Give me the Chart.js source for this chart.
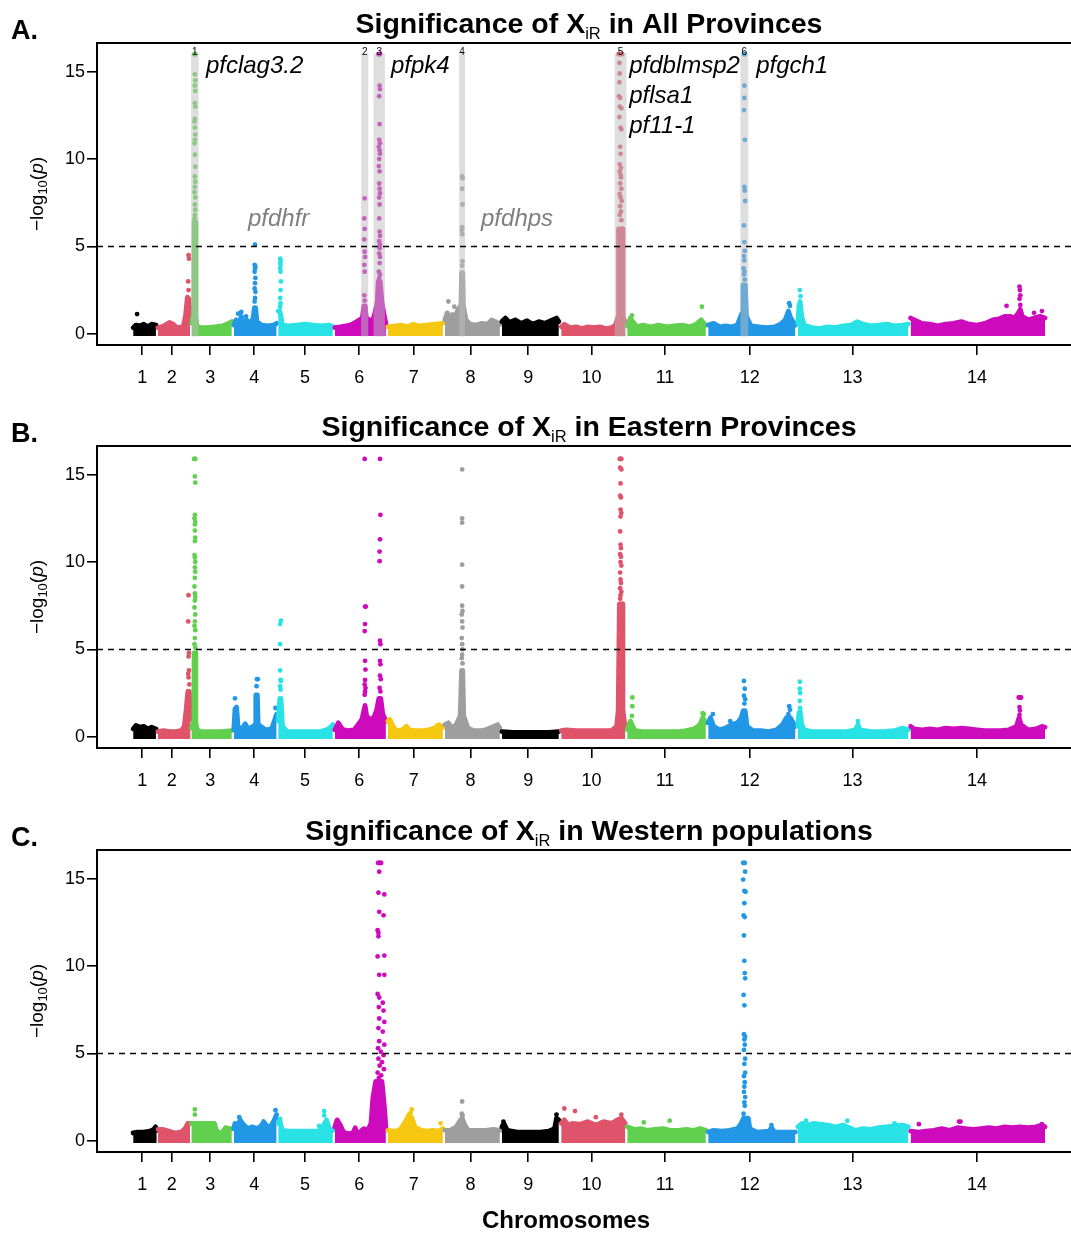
<!DOCTYPE html>
<html>
<head>
<meta charset="utf-8">
<script src="https://cdn.jsdelivr.net/npm/chart.js@4.4.1/dist/chart.umd.min.js"></script>
<style>
  body { margin: 0; background: #fff; }
  #wrap { position: relative; width: 1071px; height: 1233px; background: #fff; overflow: hidden; }
  canvas { position: absolute; left: 0; }
</style>
</head>
<body>
<div id="wrap">
  <canvas id="panelA" width="1075" height="403" style="top:0px"></canvas>
  <canvas id="panelB" width="1075" height="404" style="top:403px"></canvas>
  <canvas id="panelC" width="1075" height="426" style="top:807px"></canvas>
</div>
<script>
// --- DATA ---
// x = cumulative genome position (Mb), y = -log10(p)
const chromNames = ['1', '2', '3', '4', '5', '6', '7', '8', '9', '10', '11', '12', '13', '14'];
const chromTicks = [0.26, 1.01, 1.99, 3.11, 4.40, 5.78, 7.17, 8.61, 10.08, 11.69, 13.56, 15.72, 18.33, 21.50];
const yTicks = [0, 5, 10, 15];
const threshold = 5;

// top edge of the dense cloud of low points, per chromosome: [pos, value]
const envA = [
  [[0.03,0.35],[0.1,0.5],[0.2,0.45],[0.3,0.55],[0.4,0.4],[0.5,0.55],[0.61,0.5]],
  [[0.66,0.35],[0.8,0.45],[0.95,0.65],[1.05,0.55],[1.15,0.35],[1.3,0.4],[1.36,1.0],[1.41,2.1],[1.45,2.0],[1.48,1.0]],
  [[1.52,0.6],[1.575,1.2],[1.58,6.4],[1.62,6.4],[1.625,1.0],[1.66,0.4],[1.75,0.35],[1.9,0.35],[2.1,0.4],[2.3,0.45],[2.45,0.6],[2.54,0.7]],
  [[2.59,0.5],[2.65,0.8],[2.72,0.55],[2.78,1.0],[2.83,0.6],[2.92,0.8],[3.0,0.55],[3.08,0.9],[3.115,1.5],[3.145,1.5],[3.18,0.7],[3.3,0.5],[3.45,0.45],[3.6,0.5],[3.68,0.6]],
  [[3.72,1.3],[3.76,1.3],[3.79,1.0],[3.83,0.5],[4.0,0.45],[4.2,0.5],[4.4,0.55],[4.6,0.5],[4.8,0.45],[5.0,0.5],[5.11,0.4]],
  [[5.16,0.35],[5.3,0.4],[5.45,0.45],[5.6,0.55],[5.75,0.75],[5.86,0.9],[5.9,1.6],[5.935,1.6],[5.96,0.9],[6.05,0.8],[6.12,0.7],[6.18,1.2],[6.24,1.8],[6.265,3.0],[6.315,3.0],[6.36,1.8],[6.42,1.0],[6.46,0.6]],
  [[6.51,0.4],[6.7,0.45],[6.85,0.5],[7.0,0.4],[7.15,0.55],[7.3,0.45],[7.5,0.5],[7.7,0.55],[7.91,0.6]],
  [[7.96,0.8],[8.02,1.2],[8.08,0.9],[8.15,1.1],[8.22,1.0],[8.3,1.4],[8.37,1.6],[8.385,3.5],[8.415,3.5],[8.43,1.6],[8.5,0.8],[8.6,0.55],[8.75,0.5],[8.9,0.6],[9.05,0.55],[9.15,0.8],[9.25,0.7],[9.36,0.55]],
  [[9.41,0.7],[9.5,0.9],[9.6,0.65],[9.75,0.8],[9.9,0.6],[10.05,0.75],[10.2,0.55],[10.35,0.7],[10.5,0.6],[10.65,0.75],[10.8,0.9],[10.86,0.7]],
  [[10.92,0.4],[11.0,0.55],[11.15,0.35],[11.3,0.4],[11.45,0.3],[11.6,0.4],[11.75,0.35],[11.9,0.4],[12.05,0.3],[12.2,0.35],[12.3,0.5],[12.37,1.0],[12.38,6.0],[12.48,6.0],[12.49,1.0],[12.55,0.6]],
  [[12.6,0.45],[12.68,0.9],[12.74,0.7],[12.85,0.4],[13.0,0.5],[13.2,0.4],[13.4,0.5],[13.6,0.4],[13.8,0.45],[14.0,0.5],[14.2,0.4],[14.35,0.55],[14.48,0.8],[14.55,0.6],[14.6,0.5]],
  [[14.66,0.5],[14.8,0.6],[14.95,0.4],[15.1,0.45],[15.25,0.4],[15.4,0.5],[15.52,1.2],[15.545,2.8],[15.605,2.8],[15.63,1.0],[15.75,0.45],[15.95,0.4],[16.15,0.35],[16.35,0.4],[16.5,0.55],[16.62,0.8],[16.7,1.3],[16.76,0.9],[16.88,0.5]],
  [[16.94,0.6],[16.97,1.6],[17.0,1.85],[17.04,1.0],[17.1,0.5],[17.3,0.35],[17.5,0.3],[17.7,0.4],[17.9,0.35],[18.1,0.45],[18.3,0.5],[18.45,0.7],[18.6,0.55],[18.8,0.45],[19.0,0.5],[19.2,0.55],[19.4,0.45],[19.6,0.5],[19.75,0.55]],
  [[19.81,0.9],[19.95,0.75],[20.1,0.6],[20.3,0.55],[20.5,0.45],[20.7,0.55],[20.9,0.6],[21.1,0.7],[21.3,0.55],[21.5,0.5],[21.7,0.6],[21.9,0.8],[22.05,0.85],[22.2,1.0],[22.35,1.0],[22.45,0.9],[22.55,1.2],[22.6,1.4],[22.65,1.0],[22.8,0.8],[22.95,0.9],[23.1,1.0],[23.23,0.9]]
];
const envB = [
  [[0.03,0.45],[0.1,0.65],[0.2,0.55],[0.3,0.6],[0.4,0.45],[0.5,0.55],[0.61,0.45]],
  [[0.66,0.3],[0.8,0.35],[0.95,0.3],[1.1,0.3],[1.25,0.35],[1.33,0.6],[1.38,1.6],[1.42,2.6],[1.46,2.6],[1.49,1.0]],
  [[1.51,0.5],[1.575,0.9],[1.58,4.8],[1.62,4.8],[1.625,0.8],[1.66,0.4],[1.75,0.3],[2.0,0.3],[2.25,0.3],[2.54,0.35]],
  [[2.59,0.4],[2.62,1.6],[2.66,1.7],[2.7,0.6],[2.78,0.4],[2.88,0.75],[2.95,0.45],[3.08,0.6],[3.13,0.7],[3.15,2.4],[3.19,2.4],[3.21,0.7],[3.4,0.4],[3.55,0.45],[3.62,0.9],[3.68,1.3]],
  [[3.72,0.9],[3.76,2.2],[3.79,2.2],[3.83,0.6],[3.95,0.3],[4.2,0.3],[4.5,0.3],[4.8,0.3],[5.0,0.45],[5.11,0.7]],
  [[5.16,0.4],[5.25,0.8],[5.35,0.45],[5.5,0.35],[5.65,0.4],[5.75,0.7],[5.85,1.0],[5.9,1.5],[5.93,1.8],[5.97,1.2],[6.05,1.0],[6.15,1.1],[6.22,1.5],[6.28,2.2],[6.33,2.2],[6.38,1.3],[6.46,0.9]],
  [[6.51,0.9],[6.56,1.0],[6.62,0.7],[6.7,0.4],[6.85,0.35],[6.98,0.6],[7.05,0.4],[7.2,0.35],[7.4,0.35],[7.55,0.4],[7.7,0.5],[7.8,0.7],[7.91,0.55]],
  [[7.96,0.7],[8.05,0.8],[8.15,0.5],[8.25,0.7],[8.35,1.2],[8.385,3.8],[8.415,3.8],[8.44,1.2],[8.55,0.5],[8.7,0.35],[8.9,0.35],[9.05,0.45],[9.2,0.6],[9.3,0.7],[9.36,0.5]],
  [[9.41,0.3],[9.7,0.25],[10.0,0.25],[10.3,0.25],[10.6,0.25],[10.86,0.3]],
  [[10.92,0.35],[11.05,0.4],[11.3,0.35],[11.6,0.35],[11.9,0.35],[12.2,0.35],[12.33,0.6],[12.37,1.5],[12.4,7.6],[12.47,7.6],[12.49,1.5],[12.55,0.5]],
  [[12.6,0.4],[12.68,0.9],[12.72,0.7],[12.8,0.35],[13.0,0.3],[13.3,0.3],[13.6,0.3],[13.9,0.3],[14.1,0.35],[14.3,0.45],[14.45,0.7],[14.52,1.1],[14.6,0.8]],
  [[14.66,0.8],[14.72,1.1],[14.8,0.6],[14.95,0.4],[15.1,0.5],[15.25,0.7],[15.4,0.8],[15.5,1.1],[15.55,1.5],[15.6,1.5],[15.65,0.6],[15.8,0.35],[16.0,0.35],[16.2,0.3],[16.4,0.4],[16.55,0.7],[16.65,1.1],[16.75,1.1],[16.85,0.7],[16.88,0.6]],
  [[16.94,0.6],[16.97,1.4],[17.0,1.45],[17.04,0.7],[17.1,0.4],[17.3,0.3],[17.6,0.3],[17.9,0.3],[18.2,0.3],[18.4,0.4],[18.47,0.7],[18.52,0.4],[18.8,0.3],[19.1,0.3],[19.4,0.35],[19.6,0.5],[19.75,0.4]],
  [[19.81,0.6],[19.9,0.45],[20.1,0.4],[20.3,0.45],[20.5,0.4],[20.7,0.5],[20.9,0.45],[21.1,0.5],[21.3,0.45],[21.5,0.4],[21.7,0.35],[21.9,0.35],[22.1,0.35],[22.3,0.4],[22.5,0.6],[22.57,1.1],[22.62,0.7],[22.8,0.4],[23.0,0.45],[23.15,0.6],[23.23,0.55]]
];
const envC = [
  [[0.03,0.45],[0.15,0.5],[0.3,0.5],[0.45,0.55],[0.55,0.65],[0.6,0.8],[0.63,0.6]],
  [[0.66,0.65],[0.8,0.65],[0.95,0.55],[1.1,0.45],[1.25,0.5],[1.35,0.7],[1.42,1.0],[1.48,1.0]],
  [[1.51,1.0],[1.7,1.0],[1.9,1.0],[2.1,1.0],[2.15,0.6],[2.25,0.4],[2.3,0.5],[2.38,0.75],[2.5,0.7],[2.54,0.7]],
  [[2.59,0.7],[2.62,1.0],[2.7,0.9],[2.75,1.2],[2.85,0.9],[2.95,0.7],[3.05,0.8],[3.2,0.7],[3.3,0.9],[3.35,1.1],[3.45,0.8],[3.55,0.9],[3.62,1.2],[3.68,1.5]],
  [[3.72,1.0],[3.76,1.2],[3.82,0.6],[4.0,0.55],[4.3,0.55],[4.6,0.55],[4.75,0.55],[4.85,0.8],[4.95,1.2],[5.02,0.7],[5.11,0.6]],
  [[5.16,0.8],[5.22,1.2],[5.3,0.9],[5.38,0.5],[5.5,0.4],[5.62,0.45],[5.68,0.75],[5.72,0.4],[5.8,0.5],[5.9,0.7],[6.0,0.6],[6.08,1.0],[6.13,2.5],[6.2,3.4],[6.36,3.4],[6.42,2.0],[6.46,0.8]],
  [[6.51,0.6],[6.65,0.55],[6.8,0.6],[6.9,0.9],[6.98,1.2],[7.05,1.5],[7.12,1.3],[7.2,0.8],[7.35,0.6],[7.5,0.55],[7.65,0.6],[7.8,0.55],[7.91,0.7]],
  [[7.96,0.6],[8.1,0.6],[8.25,0.8],[8.33,1.1],[8.4,1.3],[8.47,0.9],[8.55,0.6],[8.8,0.6],[9.0,0.6],[9.2,0.65],[9.36,0.6]],
  [[9.41,0.8],[9.46,1.0],[9.55,0.6],[9.8,0.5],[10.1,0.5],[10.4,0.5],[10.6,0.55],[10.75,0.7],[10.8,1.3],[10.86,1.2]],
  [[10.92,1.0],[11.0,1.2],[11.1,0.9],[11.2,1.0],[11.4,0.95],[11.6,1.1],[11.8,0.9],[12.0,1.1],[12.2,1.0],[12.35,1.2],[12.45,1.3],[12.55,1.0]],
  [[12.6,0.8],[12.8,0.65],[12.95,0.7],[13.1,0.6],[13.3,0.65],[13.5,0.7],[13.7,0.6],[13.9,0.6],[14.1,0.65],[14.3,0.6],[14.45,0.7],[14.6,0.6]],
  [[14.66,0.5],[14.8,0.6],[15.0,0.55],[15.2,0.6],[15.4,0.7],[15.5,1.0],[15.56,1.3],[15.68,1.3],[15.72,0.7],[15.9,0.5],[16.2,0.55],[16.27,0.75],[16.35,0.5],[16.6,0.5],[16.88,0.5]],
  [[16.94,0.8],[17.05,1.0],[17.2,0.9],[17.35,1.0],[17.5,0.95],[17.7,0.9],[17.9,0.8],[18.1,0.9],[18.25,0.75],[18.4,0.6],[18.6,0.7],[18.8,0.65],[19.0,0.75],[19.2,0.8],[19.4,0.85],[19.6,0.9],[19.75,0.8]],
  [[19.81,0.55],[20.0,0.5],[20.2,0.55],[20.4,0.6],[20.6,0.7],[20.8,0.6],[21.0,0.75],[21.2,0.7],[21.4,0.65],[21.6,0.7],[21.8,0.75],[22.0,0.7],[22.2,0.8],[22.4,0.75],[22.6,0.8],[22.8,0.75],[23.0,0.8],[23.15,0.9],[23.23,0.8]]
];

// single SNPs standing out of the cloud: [chromosome, pos, value]
const hitsA = [
  [1,0.13,1.13],
  [2,1.44,4.5],[2,1.45,4.3],[2,1.43,3.0],[2,1.44,2.5],
  [3,1.585,16],[3,1.595,16],[3,1.605,16],[3,1.615,16],[3,1.6,14.85],[3,1.61,14.5],[3,1.6,14.2],[3,1.61,13.9],[3,1.6,13.2],[3,1.61,13.0],[3,1.6,12.3],[3,1.59,12.15],[3,1.6,11.8],[3,1.61,11.4],[3,1.6,11.1],[3,1.59,10.9],[3,1.6,10.25],[3,1.61,9.56],[3,1.6,9.0],[3,1.61,8.7],[3,1.6,8.4],[3,1.59,8.1],[3,1.61,7.8],[3,1.6,7.4],[3,1.61,7.1],[3,1.6,6.8],[3,1.59,6.6],
  [4,2.70,1.15],[4,2.78,1.25],[4,2.9,1.0],[4,3.13,5.1],[4,3.12,3.95],[4,3.14,3.85],[4,3.13,3.75],[4,3.12,3.55],[4,3.14,3.2],[4,3.13,2.9],[4,3.12,2.6],[4,3.14,2.4],[4,3.13,2.05],[4,3.12,1.85],
  [5,3.77,4.3],[5,3.78,4.2],[5,3.77,4.05],[5,3.78,3.95],[5,3.77,3.75],[5,3.78,3.55],[5,3.79,3.0],[5,3.78,2.5],[5,3.77,2.05],[5,3.78,1.75],[5,3.77,1.55],
  [6,5.92,7.75],[6,5.91,6.6],[6,5.92,6.0],[6,5.91,5.4],[6,5.92,4.7],[6,5.93,4.4],[6,5.91,3.95],[6,5.92,3.55],[6,5.91,2.2],[6,5.92,1.9],
  [6,6.27,16],[6,6.29,16],[6,6.31,16],[6,6.3,14.2],[6,6.31,14.0],[6,6.29,13.6],[6,6.3,12.0],[6,6.29,11.1],[6,6.31,10.9],[6,6.28,10.7],[6,6.3,10.5],[6,6.31,10.3],[6,6.29,10.0],[6,6.28,9.6],[6,6.3,9.3],[6,6.29,8.6],[6,6.3,8.3],[6,6.31,8.05],[6,6.29,7.8],[6,6.3,7.4],[6,6.29,6.6],[6,6.3,5.85],[6,6.31,5.6],[6,6.29,5.3],[6,6.31,5.1],[6,6.3,4.9],[6,6.29,4.6],[6,6.31,4.4],[6,6.3,4.05],[6,6.28,3.55],[6,6.31,3.4],[6,6.29,3.2],
  [8,8.05,1.85],[8,8.2,1.55],[8,8.40,9.0],[8,8.41,8.9],[8,8.40,8.3],[8,8.41,7.4],[8,8.40,6.1],[8,8.39,5.95],[8,8.40,5.7],[8,8.41,4.15],[8,8.40,3.9],
  [10,12.38,16],[10,12.41,16],[10,12.44,16],[10,12.47,16],[10,12.40,15.5],[10,12.41,14.9],[10,12.40,14.4],[10,12.39,13.6],[10,12.42,13.5],[10,12.41,13.0],[10,12.45,12.9],[10,12.40,12.4],[10,12.43,11.8],[10,12.45,11.7],[10,12.42,10.7],[10,12.43,10.3],[10,12.41,9.7],[10,12.44,9.5],[10,12.41,9.3],[10,12.43,9.1],[10,12.44,8.95],[10,12.42,8.6],[10,12.45,8.3],[10,12.41,8.0],[10,12.43,7.8],[10,12.46,7.6],[10,12.42,7.3],[10,12.44,7.0],[10,12.41,6.8],[10,12.45,6.5],
  [11,12.72,1.05],[11,14.50,1.55],
  [12,15.57,16],[12,15.59,16],[12,15.58,14.2],[12,15.58,13.5],[12,15.57,12.8],[12,15.59,11.1],[12,15.58,8.4],[12,15.59,8.2],[12,15.6,7.6],[12,15.57,6.2],[12,15.58,5.25],[12,15.59,4.75],[12,15.57,4.45],[12,15.58,4.2],[12,15.56,3.75],[12,15.58,3.55],[12,15.57,3.4],[12,15.59,3.1],[12,16.72,1.75],[12,16.74,1.6],
  [13,16.99,2.5],[13,17.01,2.15],
  [14,22.25,1.6],[14,22.58,2.7],[14,22.59,2.5],[14,22.6,2.2],[14,22.58,2.0],[14,22.6,1.65],[14,22.95,1.2],[14,23.15,1.3]
];
const hitsB = [
  [2,1.44,8.1],[2,1.43,6.6],[2,1.45,4.8],[2,1.44,4.6],[2,1.45,3.8],[2,1.43,3.6],[2,1.44,3.4],[2,1.46,3.0],
  [3,1.58,15.9],[3,1.595,15.9],[3,1.61,15.9],[3,1.6,14.9],[3,1.61,14.55],[3,1.6,12.7],[3,1.59,12.5],[3,1.61,12.3],[3,1.6,12.15],[3,1.6,11.8],[3,1.61,11.4],[3,1.6,11.2],[3,1.59,10.4],[3,1.6,10.25],[3,1.61,10.0],[3,1.6,9.7],[3,1.61,9.45],[3,1.6,9.1],[3,1.59,8.6],[3,1.6,8.2],[3,1.61,8.0],[3,1.6,7.8],[3,1.59,7.4],[3,1.61,7.0],[3,1.6,6.6],[3,1.59,6.35],[3,1.61,6.1],[3,1.6,5.65],[3,1.59,5.3],[3,1.61,5.1],
  [4,2.62,2.2],[4,3.18,3.3],[4,3.2,3.3],[4,3.17,2.9],[4,3.65,1.65],
  [5,3.79,6.65],[5,3.77,6.45],[5,3.77,5.3],[5,3.77,3.8],[5,3.78,3.25],[5,3.79,3.2],[5,3.77,2.9],[5,3.78,2.7],
  [6,5.92,15.9],[6,5.93,7.45],[6,5.95,7.45],[6,5.93,6.45],[6,5.92,6.05],[6,5.93,4.35],[6,5.94,3.85],[6,5.93,3.25],[6,5.92,3.0],[6,5.94,2.8],[6,5.93,2.6],[6,5.92,2.4],
  [6,6.31,15.9],[6,6.32,12.7],[6,6.31,11.3],[6,6.3,10.6],[6,6.3,10.05],[6,6.31,5.5],[6,6.32,5.3],[6,6.31,4.35],[6,6.32,4.15],[6,6.31,3.5],[6,6.33,3.3],[6,6.3,2.8],[6,6.32,2.6],
  [8,8.40,15.3],[8,8.40,12.5],[8,8.40,12.25],[8,8.40,9.85],[8,8.40,8.6],[8,8.40,7.5],[8,8.41,7.2],[8,8.39,7.0],[8,8.40,6.6],[8,8.41,6.25],[8,8.39,5.65],[8,8.40,5.3],[8,8.41,5.0],[8,8.40,4.7],[8,8.39,4.5],[8,8.41,4.2],
  [10,12.41,15.9],[10,12.42,15.9],[10,12.44,15.9],[10,12.45,15.9],[10,12.42,15.4],[10,12.45,15.3],[10,12.43,14.5],[10,12.42,13.8],[10,12.44,13.7],[10,12.43,13.0],[10,12.45,12.8],[10,12.43,12.6],[10,12.42,11.75],[10,12.43,11.0],[10,12.44,10.8],[10,12.42,10.45],[10,12.44,10.3],[10,12.43,10.0],[10,12.45,9.8],[10,12.42,9.4],[10,12.43,9.0],[10,12.44,8.8],[10,12.42,8.5],[10,12.45,8.3],[10,12.43,8.1],[10,12.42,7.9],
  [11,12.73,2.25],[11,12.73,1.75],[11,12.72,1.2],[11,14.52,1.35],[11,14.55,1.3],
  [12,14.78,1.3],[12,15.22,0.9],[12,15.57,3.2],[12,15.59,2.75],[12,15.57,2.35],[12,15.6,2.15],[12,15.58,1.9],[12,16.72,1.75],[12,16.74,1.55],[12,16.7,1.3],
  [13,16.99,3.15],[13,16.99,2.75],[13,17.0,2.5],[13,16.99,2.05],[13,17.0,1.65],[13,18.47,0.9],
  [14,22.56,2.25],[14,22.58,2.25],[14,22.6,2.25],[14,22.62,2.25],[14,22.58,1.7],[14,22.59,1.5],[14,22.58,1.25]
];
const hitsC = [
  [3,1.6,1.8],[3,1.6,1.5],
  [4,2.73,1.35],[4,3.65,1.75],[4,3.67,1.3],
  [5,3.77,1.25],[5,4.76,0.85],[5,4.89,1.7],[5,4.89,1.45],
  [6,6.26,15.9],[6,6.28,15.9],[6,6.3,15.9],[6,6.32,15.9],[6,6.34,15.9],[6,6.29,15.4],[6,6.27,14.2],[6,6.42,14.1],[6,6.29,13.1],[6,6.4,12.9],[6,6.25,12.05],[6,6.27,11.9],[6,6.27,11.7],[6,6.42,10.6],[6,6.25,10.55],[6,6.29,9.5],[6,6.42,9.5],[6,6.25,8.4],[6,6.29,8.2],[6,6.38,7.9],[6,6.28,7.65],[6,6.4,7.45],[6,6.29,7.0],[6,6.42,6.8],[6,6.27,6.45],[6,6.38,6.25],[6,6.29,5.7],[6,6.42,5.5],[6,6.26,5.3],[6,6.33,5.1],[6,6.4,4.9],[6,6.27,4.7],[6,6.36,4.5],[6,6.3,4.3],[6,6.41,4.1],[6,6.25,3.9],[6,6.34,3.75],[6,6.28,3.6],
  [7,7.12,1.8],[7,7.09,1.6],[7,7.85,1.0],
  [8,8.40,2.25],[8,8.39,1.55],[8,8.41,1.45],
  [9,9.45,1.1],[9,10.8,1.5],
  [10,11.0,1.85],[10,11.27,1.7],[10,11.8,1.35],[10,12.45,1.5],
  [11,13.02,1.05],[11,13.68,1.15],
  [12,15.55,15.9],[12,15.57,15.9],[12,15.59,15.9],[12,15.6,15.4],[12,15.55,14.95],[12,15.58,14.3],[12,15.61,14.25],[12,15.58,13.6],[12,15.56,12.9],[12,15.59,12.8],[12,15.57,11.75],[12,15.58,10.3],[12,15.59,9.6],[12,15.6,9.3],[12,15.56,8.35],[12,15.58,7.75],[12,15.57,6.1],[12,15.6,5.95],[12,15.58,5.8],[12,15.59,5.5],[12,15.57,5.2],[12,15.6,4.7],[12,15.58,4.4],[12,15.6,3.9],[12,15.57,3.7],[12,15.59,3.35],[12,15.58,3.1],[12,15.57,2.8],[12,15.6,2.5],[12,15.58,2.2],[12,15.59,2.0],[12,15.56,1.55],[12,16.27,0.9],
  [13,17.15,1.15],[13,18.2,1.15],[13,19.4,1.0],
  [14,20.02,0.95],[14,21.04,1.1],[14,21.08,1.1],[14,23.15,0.95]
];

// highlighted loci in panel A: [start, end] (Mb)
const lociA = [[1.505,1.695],[5.83,6.01],[6.145,6.435],[8.325,8.475],[12.28,12.58],[15.48,15.68]];
const lociNames = ['1', '2', '3', '4', '5', '6'];

// gene annotations: [text, pos, value, grey?]
const genesA = [
  ['pfclag3.2', 1.88, 14.92, false],
  ['pfpk4', 6.59, 14.92, false],
  ['pfdblmsp2', 12.65, 14.92, false],
  ['pflsa1', 12.65, 13.2, false],
  ['pf11-1', 12.65, 11.49, false],
  ['pfgch1', 15.88, 14.92, false],
  ['pfdhfr', 2.95, 6.17, true],
  ['pfdhps', 8.88, 6.17, true]
];

// --- STYLE ---
const FONT = '"Liberation Sans", Arial, Helvetica, sans-serif';
const palette = ['#000000', '#DF536B', '#61D04F', '#2297E6', '#28E2E5', '#CD0BBC', '#F5C710', '#9E9E9E'];
const AREA_TOP = 43;
const AREA_BOTTOM = 345;

const panels = [
  { canvas: 'panelA', letter: 'A.', where: 'All Provinces', env: envA, hits: hitsA, loci: true, xlab: false },
  { canvas: 'panelB', letter: 'B.', where: 'Eastern Provinces', env: envB, hits: hitsB, loci: false, xlab: false },
  { canvas: 'panelC', letter: 'C.', where: 'Western populations', env: envC, hits: hitsC, loci: false, xlab: true }
];

function colorOf(chr) {
    return palette[(chr - 1) % palette.length];
}

function buildDatasets(panel) {
    const sets = [];
    panel.env.forEach((env, i) => {
        const chr = i + 1;
        const col = colorOf(chr);
        sets.push({
            type: 'line',
            data: env.map(p => ({ x: p[0], y: p[1] })),
            borderColor: col,
            backgroundColor: col,
            borderWidth: 4.8,
            borderJoinStyle: 'round',
            borderCapStyle: 'round',
            pointRadius: 0,
            tension: 0,
            fill: { value: -0.12 },
            order: 100 - 2 * chr
        });
        sets.push({
            type: 'scatter',
            data: panel.hits.filter(h => h[0] === chr).map(h => ({ x: h[1], y: h[2] })),
            backgroundColor: col,
            borderWidth: 0,
            pointRadius: 2.4,
            order: 99 - 2 * chr
        });
    });
    return sets;
}

function drawTitle(ctx, where) {
    const pre = 'Significance of X';
    const sub = 'iR';
    const post = ' in ' + where;
    const big = `bold 28.5px ${FONT}`;
    const small = `16.5px ${FONT}`;
    ctx.font = big;
    const w1 = ctx.measureText(pre).width;
    const w3 = ctx.measureText(post).width;
    ctx.font = small;
    const w2 = ctx.measureText(sub).width;
    let x = 589 - (w1 + w2 + w3) / 2;
    ctx.fillStyle = '#000';
    ctx.textAlign = 'left';
    ctx.textBaseline = 'alphabetic';
    ctx.font = big;
    ctx.fillText(pre, x, 33);
    x += w1;
    ctx.font = small;
    ctx.fillText(sub, x, 38.5);
    x += w2;
    ctx.font = big;
    ctx.fillText(post, x, 33);
}

function drawYTitle(ctx, midY) {
    const parts = [
        ['\u2212log', `19px ${FONT}`, 0],
        ['10', `13px ${FONT}`, 4],
        ['(', `19px ${FONT}`, 0],
        ['p', `italic 19px ${FONT}`, 0],
        [')', `19px ${FONT}`, 0]
    ];
    ctx.save();
    ctx.translate(43, midY);
    ctx.rotate(-Math.PI / 2);
    let total = 0;
    parts.forEach(p => { ctx.font = p[1]; total += ctx.measureText(p[0]).width; });
    let x = -total / 2;
    ctx.fillStyle = '#000';
    ctx.textBaseline = 'alphabetic';
    ctx.textAlign = 'left';
    parts.forEach(p => {
        ctx.font = p[1];
        ctx.fillText(p[0], x, p[2]);
        x += ctx.measureText(p[0]).width;
    });
    ctx.restore();
}

function decorPlugin(panel) {
    return {
        id: 'decor',
        afterDatasetsDraw(chart) {
            const ctx = chart.ctx;
            const xs = chart.scales.x;
            const ys = chart.scales.y;
            const area = chart.chartArea;
            ctx.save();

            if (panel.loci) {
                ctx.fillStyle = 'rgba(190,190,190,0.5)';
                lociA.forEach(r => {
                    const x0 = xs.getPixelForValue(r[0]);
                    const x1 = xs.getPixelForValue(r[1]);
                    const y0 = ys.getPixelForValue(16.05);
                    const y1 = ys.getPixelForValue(-0.15);
                    ctx.fillRect(x0, y0, x1 - x0, y1 - y0);
                });
                ctx.fillStyle = '#000';
                ctx.font = `10px ${FONT}`;
                ctx.textAlign = 'center';
                ctx.textBaseline = 'alphabetic';
                lociA.forEach((r, i) => {
                    const xm = xs.getPixelForValue((r[0] + r[1]) / 2);
                    ctx.fillText(lociNames[i], xm, ys.getPixelForValue(16.0) + 1);
                });
            }

            // significance threshold
            ctx.strokeStyle = '#000';
            ctx.lineWidth = 1.3;
            ctx.setLineDash([6, 5]);
            const yt = Math.round(ys.getPixelForValue(threshold)) + 0.5;
            ctx.beginPath();
            ctx.moveTo(area.left, yt);
            ctx.lineTo(area.right, yt);
            ctx.stroke();
            ctx.setLineDash([]);

            // top frame line
            ctx.lineWidth = 2;
            ctx.beginPath();
            ctx.moveTo(area.left - 1, area.top);
            ctx.lineTo(area.right, area.top);
            ctx.stroke();

            if (panel.loci) {
                ctx.textAlign = 'left';
                ctx.textBaseline = 'alphabetic';
                ctx.font = `italic 24px ${FONT}`;
                genesA.forEach(g => {
                    ctx.fillStyle = g[3] ? '#7f7f7f' : '#000';
                    ctx.fillText(g[0], xs.getPixelForValue(g[1]), ys.getPixelForValue(g[2]));
                });
            }
            ctx.restore();
        },
        afterDraw(chart) {
            const ctx = chart.ctx;
            const area = chart.chartArea;
            ctx.save();
            drawTitle(ctx, panel.where);
            ctx.font = `bold 27px ${FONT}`;
            ctx.fillStyle = '#000';
            ctx.textAlign = 'left';
            ctx.textBaseline = 'alphabetic';
            ctx.fillText(panel.letter, 11, 39);
            drawYTitle(ctx, (area.top + area.bottom) / 2);
            if (panel.xlab) {
                ctx.font = `bold 24px ${FONT}`;
                ctx.textAlign = 'center';
                ctx.fillText('Chromosomes', 566, 421);
            }
            ctx.restore();
        }
    };
}

function makePanel(panel) {
    const el = document.getElementById(panel.canvas);
    const H = el.height;
    return new Chart(el, {
        type: 'scatter',
        data: { datasets: buildDatasets(panel) },
        options: {
            responsive: false,
            animation: false,
            devicePixelRatio: 1,
            layout: { padding: { top: AREA_TOP, left: 0, right: 0, bottom: 0 } },
            plugins: { legend: { display: false }, tooltip: { enabled: false }, title: { display: false } },
            scales: {
                x: {
                    type: 'linear',
                    min: -0.89,
                    max: 23.89,
                    afterBuildTicks: s => { s.ticks = chromTicks.map(v => ({ value: v })); },
                    afterFit: s => { s.height = H - AREA_BOTTOM; },
                    ticks: {
                        callback: (v, i) => chromNames[i],
                        autoSkip: false,
                        maxRotation: 0,
                        padding: 12,
                        color: '#000',
                        font: { family: FONT, size: 18 }
                    },
                    grid: { drawOnChartArea: false, drawTicks: true, tickLength: 10, color: '#000', lineWidth: 1.6 },
                    border: { color: '#000', width: 2 }
                },
                y: {
                    min: -0.64,
                    max: 16.64,
                    afterBuildTicks: s => { s.ticks = yTicks.map(v => ({ value: v })); },
                    afterFit: s => { s.width = 97; },
                    ticks: {
                        padding: 2,
                        color: '#000',
                        font: { family: FONT, size: 18 }
                    },
                    grid: { drawOnChartArea: false, drawTicks: true, tickLength: 10, color: '#000', lineWidth: 1.6 },
                    border: { color: '#000', width: 2 }
                }
            }
        },
        plugins: [decorPlugin(panel)]
    });
}

panels.forEach(makePanel);
</script>
</body>
</html>
